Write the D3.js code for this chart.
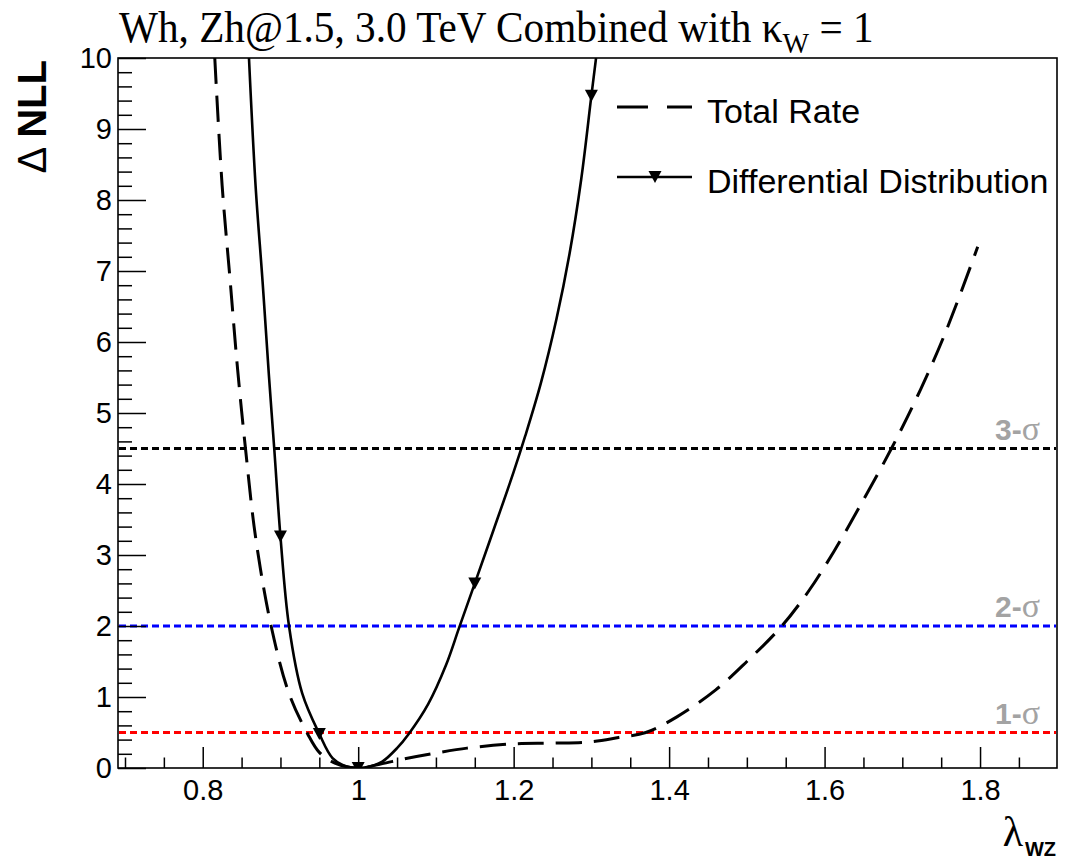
<!DOCTYPE html>
<html>
<head>
<meta charset="utf-8">
<script src="https://cdn.jsdelivr.net/npm/d3@7/dist/d3.min.js"></script>
<style>
    body { margin: 0; background: #fff; }
</style>
</head>
<body>
<div id="chart"></div>
<script>
// values
let totalRateX = [0.8155, 0.825, 0.835, 0.845, 0.855, 0.868, 0.888, 0.911, 0.935, 0.95, 0.97, 1.0, 1.03, 1.06, 1.1, 1.14, 1.2, 1.25, 1.3, 1.335, 1.37, 1.41, 1.46, 1.5, 1.545, 1.58, 1.612, 1.646, 1.686, 1.72, 1.755, 1.797]
let totalRateY = [10, 8.2, 6.9, 5.6, 4.5, 3.25, 2.0, 1.05, 0.48, 0.22, 0.07, 0, 0.06, 0.13, 0.21, 0.28, 0.34, 0.35, 0.37, 0.43, 0.5, 0.72, 1.1, 1.5, 2.0, 2.5, 3.05, 3.7, 4.5, 5.25, 6.12, 7.34]

let diffX = [0.8595, 0.868, 0.877, 0.885, 0.892, 0.9, 0.911, 0.928, 0.95, 0.967, 0.985, 1.0, 1.015, 1.031, 1.05, 1.065, 1.09, 1.113, 1.13, 1.15, 1.175, 1.2, 1.215, 1.235, 1.255, 1.272, 1.287, 1.3, 1.306]
let diffY = [10, 8.2, 6.85, 5.55, 4.5, 3.26, 2.0, 1.05, 0.48, 0.14, 0.02, 0, 0.02, 0.09, 0.28, 0.48, 0.9, 1.45, 1.98, 2.6, 3.38, 4.17, 4.68, 5.42, 6.32, 7.25, 8.3, 9.47, 10]
let diffMarkerX = [0.9, 0.95, 1.0, 1.15, 1.3]

let sigmaLevels = [0.5, 2, 4.5]
let sigmaNames = ["1-", "2-", "3-"]
let sigmaColors = ["#ff0000", "#0000ff", "#000000"]

let xMajor = [0.8, 1.0, 1.2, 1.4, 1.6, 1.8]
let xMajorLabels = ["0.8", "1", "1.2", "1.4", "1.6", "1.8"]
let xMinor = [0.7, 0.75, 0.85, 0.9, 0.95, 1.05, 1.1, 1.15, 1.25, 1.3, 1.35, 1.45, 1.5, 1.55, 1.65, 1.7, 1.75, 1.85]
let yMajor = [0, 1, 2, 3, 4, 5, 6, 7, 8, 9, 10]
let yMinor = d3.range(0, 50).map(function (i) { return +(i * 0.2).toFixed(1) }).filter(function (v) { return v % 1 !== 0 })

let legendNames = ["Total Rate", "Differential Distribution"]

let width = 1069,
    height = 864
let frameLeft = 118, frameRight = 1057, frameTop = 58, frameBottom = 768

let svg = d3.select('#chart')
    .append('svg')
    .attr("width", width)
    .attr("height", height)
    .style("font-family", "'Liberation Sans', Arial, sans-serif")

let x = d3.scaleLinear().domain([0.691, 1.899]).range([frameLeft, frameRight])
let y = d3.scaleLinear().domain([0, 10]).range([frameBottom, frameTop])

svg.append("clipPath").attr("id", "frame")
    .append("rect")
    .attr("x", frameLeft).attr("y", frameTop)
    .attr("width", frameRight - frameLeft).attr("height", frameBottom - frameTop)

// sigma lines
svg.selectAll(".sigma")
    .data(sigmaLevels)
    .enter().append("line")
    .attr("class", "sigma")
    .attr("x1", frameLeft + 1).attr("x2", frameRight - 1)
    .attr("y1", function (d) { return y(d) })
    .attr("y2", function (d) { return y(d) })
    .attr("stroke", function (d, i) { return sigmaColors[i] })
    .attr("stroke-width", 3)
    .attr("stroke-dasharray", "7 4")

let sigmaText = svg.selectAll(".sigmaText")
    .data(sigmaLevels)
    .enter().append("text")
    .attr("class", "sigmaText")
    .attr("x", 1040)
    .attr("y", function (d) { return y(d) - 9 })
    .attr("text-anchor", "end")
    .attr("fill", "#a3a3a3")
    .attr("font-size", 30)
sigmaText.append("tspan")
    .attr("font-weight", "bold")
    .text(function (d, i) { return sigmaNames[i] })
sigmaText.append("tspan")
    .attr("font-family", "'Liberation Serif', serif")
    .attr("font-size", 34)
    .text("σ")

// curves
let line = d3.line()
    .x(function (d) { return x(d[0]) })
    .y(function (d) { return y(d[1]) })
    .curve(d3.curveCatmullRom.alpha(0.5))

let plot = svg.append("g").attr("clip-path", "url(#frame)")

plot.append("path")
    .datum(d3.zip(totalRateX, totalRateY))
    .attr("d", line)
    .attr("fill", "none")
    .attr("stroke", "#000")
    .attr("stroke-width", 3)
    .attr("stroke-dasharray", "26 12")

plot.append("path")
    .datum(d3.zip(diffX, diffY))
    .attr("d", line)
    .attr("fill", "none")
    .attr("stroke", "#000")
    .attr("stroke-width", 2.6)

let triangle = "M-6.5,-6L6.5,-6L0,6Z"

plot.selectAll(".marker")
    .data(diffMarkerX)
    .enter().append("path")
    .attr("class", "marker")
    .attr("d", triangle)
    .attr("transform", function (d) {
        let yv = diffY[diffX.indexOf(d)]
        return "translate(" + x(d) + "," + y(yv) + ")"
    })
    .attr("fill", "#000")

// frame and axes
svg.append("rect")
    .attr("x", frameLeft).attr("y", frameTop)
    .attr("width", frameRight - frameLeft).attr("height", frameBottom - frameTop)
    .attr("fill", "none")
    .attr("stroke", "#000")
    .attr("stroke-width", 1.6)

svg.append("g")
    .attr("transform", "translate(0," + frameBottom + ")")
    .call(d3.axisBottom(x).tickValues(xMajor).tickSize(-21).tickPadding(11)
        .tickFormat(function (d, i) { return xMajorLabels[i] }))
svg.append("g")
    .attr("transform", "translate(0," + frameBottom + ")")
    .call(d3.axisBottom(x).tickValues(xMinor).tickSize(-10.5).tickFormat(""))

svg.append("g")
    .attr("transform", "translate(" + frameLeft + ",0)")
    .call(d3.axisLeft(y).tickValues(yMajor).tickSize(-28).tickPadding(6))
svg.append("g")
    .attr("transform", "translate(" + frameLeft + ",0)")
    .call(d3.axisLeft(y).tickValues(yMinor).tickSize(-14).tickFormat(""))

svg.selectAll(".domain").remove()
svg.selectAll(".tick line").attr("stroke", "#000").attr("stroke-width", 1.5)
svg.selectAll(".tick text")
    .attr("font-family", "'Liberation Sans', Arial, sans-serif")
    .attr("font-size", 29)
    .attr("fill", "#000")

// axis titles
let yTitle = svg.append("text")
    .attr("transform", "translate(46," + (frameTop + 2) + ") rotate(-90)")
    .attr("text-anchor", "end")
    .attr("font-size", 40)
yTitle.append("tspan").text("Δ ")
yTitle.append("tspan").attr("font-weight", "bold").text("NLL")

svg.append("text")
    .attr("x", 1023)
    .attr("y", 846)
    .attr("text-anchor", "end")
    .attr("font-family", "'Liberation Serif', serif")
    .attr("font-size", 42)
    .text("λ")
svg.append("text")
    .attr("x", frameRight - 1)
    .attr("y", 856)
    .attr("text-anchor", "end")
    .attr("font-weight", "bold")
    .attr("font-size", 20)
    .text("WZ")

// title
let title = svg.append("text")
    .attr("font-family", "'Liberation Serif', 'Times New Roman', serif")
    .attr("font-size", 44)
title.append("tspan").text("Wh, Zh@1.5, 3.0 TeV Combined with κ")
title.append("tspan").attr("font-size", 30).attr("dy", 11).text("W")
title.append("tspan").attr("dy", -11).text(" = 1")
let titleWidth = title.node().getBBox().width
title.attr("transform", "translate(119,42) scale(" + (755 / titleWidth) + ",1)")

// legend
let legend = svg.append("g")
let legendY = [107, 177]
legend.append("line")
    .attr("x1", 617).attr("x2", 692)
    .attr("y1", legendY[0]).attr("y2", legendY[0])
    .attr("stroke", "#000").attr("stroke-width", 3)
    .attr("stroke-dasharray", "31 19")
legend.append("line")
    .attr("x1", 617).attr("x2", 692)
    .attr("y1", legendY[1]).attr("y2", legendY[1])
    .attr("stroke", "#000").attr("stroke-width", 2.6)
legend.append("path")
    .attr("d", triangle)
    .attr("transform", "translate(655," + legendY[1] + ")")
    .attr("fill", "#000")
legend.selectAll(".legendText")
    .data(legendNames)
    .enter().append("text")
    .attr("class", "legendText")
    .attr("x", 707)
    .attr("y", function (d, i) { return legendY[i] + 16 })
    .attr("font-size", 34)
    .text(function (d) { return d })
</script>
</body>
</html>
